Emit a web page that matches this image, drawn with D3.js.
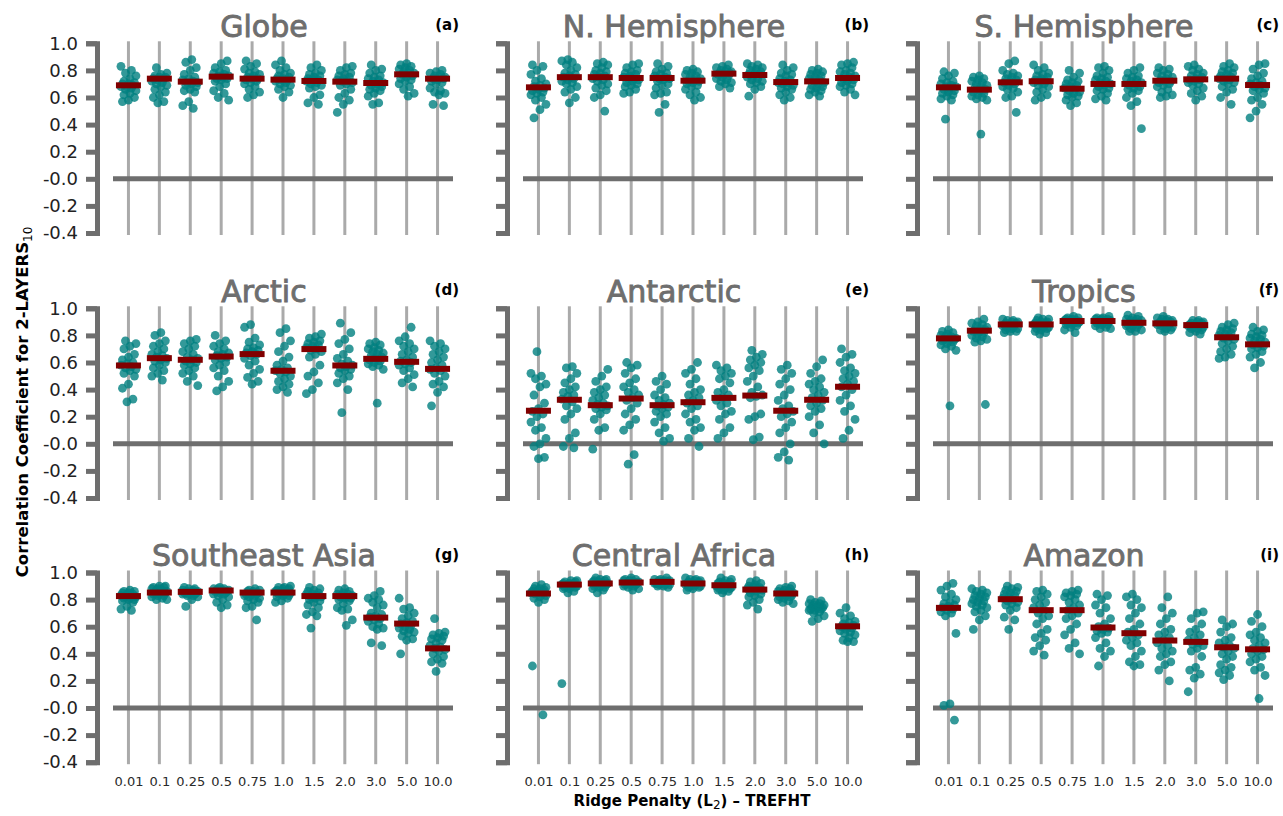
<!DOCTYPE html>
<html>
<head>
<meta charset="utf-8">
<script src="https://cdn.jsdelivr.net/npm/d3@7"></script>
<style>
  html, body { margin: 0; padding: 0; background: #fff; }
  svg { display: block; font-family: "DejaVu Sans", sans-serif; }
</style>
</head>
<body>
<svg id="chart" width="1283" height="816"></svg>
<script>
const categories = ["0.01","0.1","0.25","0.5","0.75","1.0","1.5","2.0","3.0","5.0","10.0"];
const panelTitles = ["Globe","N. Hemisphere","S. Hemisphere","Arctic","Antarctic","Tropics","Southeast Asia","Central Africa","Amazon"];
const panelLetters = ["(a)","(b)","(c)","(d)","(e)","(f)","(g)","(h)","(i)"];
const yTickValues = [-0.4,-0.2,0,0.2,0.4,0.6,0.8,1.0];
const yTickLabels = ["-0.4","-0.2","-0.0","0.2","0.4","0.6","0.8","1.0"];
const yAxisLabel = "Correlation Coefficient for 2-LAYERS";
const yAxisLabelSub = "10";
const xAxisLabelPre = "Ridge Penalty (L";
const xAxisLabelSub = "2";
const xAxisLabelPost = ") \u2013 TREFHT";

// points per category, values x100
const globePoints = [
  "83 80 78 76 74 72 71 70 70 69 68 68 67 66 65 63 62 60 58 57",
  "82 78 77 76 75 75 74 74 73 72 71 70 69 68 66 64 62 60 57 56",
  "88 86 82 80 77 75 74 73 72 71 71 70 69 68 66 65 64 57 54 52",
  "87 85 82 80 79 78 77 76 76 75 74 74 73 72 70 68 65 63 60 58",
  "87 85 83 81 79 78 77 76 75 74 74 73 72 71 70 68 66 64 62 60",
  "87 84 82 80 78 77 76 75 74 74 73 73 72 71 70 69 68 66 64 60",
  "84 82 80 78 77 76 75 74 73 73 72 71 70 69 68 67 62 60 56 55",
  "83 82 80 78 77 76 75 74 73 72 72 71 70 69 66 63 60 58 55 49",
  "84 81 80 78 76 75 74 73 72 71 70 69 68 67 66 65 63 61 56 55",
  "85 84 83 82 81 80 79 78 78 77 76 75 74 73 72 70 68 66 63 61",
  "80 79 78 77 76 75 75 74 74 73 72 71 70 67 65 64 63 62 55 54"
];
const globeMeans = [0.69,0.739,0.717,0.754,0.739,0.732,0.722,0.717,0.707,0.771,0.739];

const nhPoints = [
  "84 83 80 77 74 72 70 69 68 67 66 65 64 63 62 60 58 55 51 45",
  "88 87 86 84 82 80 78 77 76 75 74 73 72 71 70 68 66 64 60 56",
  "86 85 84 82 80 79 78 77 76 75 74 73 72 70 69 67 65 62 60 50",
  "85 84 82 80 79 78 77 76 75 74 74 73 72 71 70 69 68 66 64 63",
  "85 83 81 79 78 77 76 75 74 74 73 72 70 69 67 64 63 62 55 49",
  "81 80 79 78 77 76 75 74 73 72 72 71 70 69 68 66 64 62 60 58",
  "84 83 82 81 80 79 79 78 78 77 77 76 75 74 73 72 71 70 68 67",
  "85 84 83 82 81 80 79 78 77 77 76 75 74 73 72 71 70 68 66 61",
  "84 82 80 78 77 76 74 73 72 71 71 70 69 68 67 66 64 62 60 58",
  "81 80 79 78 77 76 75 74 73 72 71 70 69 68 67 66 65 64 62 61",
  "86 85 84 82 80 79 78 77 76 75 74 73 72 71 70 69 68 66 64 62"
];
const nhMeans = [0.675,0.75,0.75,0.744,0.744,0.724,0.776,0.766,0.714,0.719,0.744];

const shPoints = [
  "79 78 76 74 72 71 70 69 68 68 67 66 65 64 63 62 61 59 58 44",
  "76 75 74 73 72 71 70 69 68 67 66 65 64 63 62 61 60 59 58 33",
  "87 85 80 78 77 76 75 74 73 72 71 70 69 68 67 66 64 61 60 49",
  "84 82 80 78 77 76 75 74 73 72 72 71 70 69 68 66 64 62 60 58",
  "80 78 75 73 72 71 70 69 68 67 66 65 64 63 62 61 60 58 56 54",
  "83 82 80 78 76 75 74 73 72 71 70 69 68 67 66 65 63 61 59 58",
  "82 80 78 76 75 74 73 72 71 70 69 68 67 66 65 63 60 57 54 37",
  "82 81 80 78 77 76 75 74 73 72 72 71 70 69 68 66 64 62 61 60",
  "84 83 81 80 78 77 76 75 74 73 73 72 71 70 69 67 65 63 61 58",
  "85 83 82 80 79 78 77 76 75 74 74 73 72 71 70 68 66 64 60 55",
  "85 84 81 78 76 74 72 71 70 69 68 67 66 65 63 60 58 55 50 45"
];
const shMeans = [0.675,0.658,0.712,0.72,0.665,0.70,0.70,0.724,0.734,0.739,0.692];

const arcticPoints = [
  "76 74 72 70 66 64 62 60 59 58 57 56 55 54 52 50 44 41 33 31",
  "82 80 76 74 72 70 68 66 65 64 63 62 61 60 58 56 54 52 50 47",
  "77 76 74 72 70 68 66 64 63 62 61 60 59 58 56 54 52 50 46 43",
  "80 76 74 72 70 68 67 66 65 64 63 62 60 58 56 54 50 46 42 39",
  "88 86 78 75 73 71 70 69 68 67 66 65 63 61 58 55 52 49 46 44",
  "85 82 76 72 68 64 61 58 56 55 54 53 52 50 48 46 44 42 40 38",
  "81 79 78 76 75 74 73 72 71 70 69 68 66 64 58 53 50 45 40 37",
  "89 82 77 74 70 66 63 61 59 58 57 56 55 54 52 50 48 45 40 23",
  "75 74 73 71 70 69 68 67 66 65 64 63 62 61 60 59 58 57 55 30",
  "86 79 76 74 72 70 68 66 64 62 61 60 59 58 56 54 51 48 45 42",
  "76 74 72 70 68 66 64 62 60 58 56 55 54 52 50 46 44 42 38 28"
];
const arcticMeans = [0.578,0.632,0.62,0.644,0.662,0.539,0.699,0.578,0.627,0.605,0.553];

const antarcticPoints = [
  "68 52 50 48 44 42 36 30 26 24 22 20 16 12 10 4 0 -2 -10 -11",
  "57 56 52 48 45 42 40 38 36 35 33 31 28 26 22 18 8 4 -2 -3",
  "55 50 46 42 40 38 36 34 32 30 29 28 27 26 25 22 18 12 10 -4",
  "60 58 56 52 48 45 42 40 38 36 34 32 30 26 22 18 14 10 -8 -15",
  "50 46 44 40 36 34 32 30 29 28 27 26 24 22 20 16 12 8 4 2",
  "60 55 52 48 44 40 38 36 34 32 30 28 26 22 18 16 12 10 4 -2",
  "58 56 54 52 50 48 45 40 38 36 34 32 30 28 24 22 18 12 8 4",
  "69 66 64 62 60 58 56 54 50 46 42 38 36 35 34 22 20 18 5 3",
  "58 55 52 48 44 40 36 32 28 26 24 22 20 16 12 8 0 -6 -10 -12",
  "62 57 52 48 46 44 42 40 38 36 34 32 30 28 26 24 20 14 8 0",
  "70 66 64 60 56 54 52 50 48 46 44 42 40 36 32 28 24 18 10 4"
];
const antarcticMeans = [0.244,0.325,0.285,0.334,0.285,0.307,0.339,0.356,0.244,0.325,0.421];

const tropicsPoints = [
  "84 83 82 81 80 79 79 78 78 77 77 76 76 75 74 73 72 70 69 28",
  "92 90 89 88 87 86 85 84 84 83 83 82 81 80 79 78 77 76 75 29",
  "92 91 91 90 90 89 89 88 88 88 87 87 86 86 85 85 84 83 83 82",
  "93 92 92 91 90 90 89 89 88 88 87 87 86 86 85 85 84 83 82 81",
  "94 93 93 92 92 91 91 91 90 90 90 89 89 89 88 88 87 86 84 82",
  "94 93 93 92 92 92 91 91 91 90 90 90 89 89 88 88 87 86 85 85",
  "95 94 93 92 92 91 91 90 90 89 89 88 88 87 87 86 85 84 83 83",
  "94 93 92 92 91 91 90 90 89 89 88 88 88 87 87 86 85 84 84 83",
  "91 91 90 90 89 89 88 88 88 87 87 87 86 86 85 85 84 83 82 81",
  "89 88 86 85 84 83 82 81 80 79 78 77 76 74 72 70 68 66 64 63",
  "86 84 83 81 80 79 78 77 76 75 74 73 72 71 70 68 66 64 60 56"
];
const tropicsMeans = [0.778,0.835,0.881,0.881,0.906,0.906,0.893,0.889,0.876,0.786,0.734];

const seAsiaPoints = [
  "87 86 86 85 85 84 84 83 83 82 82 81 81 80 80 79 78 75 73 72",
  "90 90 89 89 88 88 87 87 86 86 85 85 84 84 83 83 82 81 80 80",
  "89 88 88 87 87 86 86 86 85 85 85 85 84 84 84 83 83 82 80 75",
  "89 88 88 88 87 87 87 86 86 86 85 85 84 84 83 82 80 78 76 74",
  "88 87 87 86 86 85 85 84 84 84 83 83 82 81 80 79 78 75 74 65",
  "90 89 89 88 88 87 87 86 86 86 85 85 84 84 83 83 82 81 79 78",
  "89 88 87 86 85 84 84 83 82 82 81 80 79 78 76 74 71 69 68 59",
  "88 87 86 85 84 84 83 83 82 82 81 81 80 79 77 74 73 72 65 61",
  "86 83 81 80 78 76 74 70 69 68 67 66 65 64 62 60 59 58 48 46",
  "81 74 73 70 68 66 64 63 62 61 60 59 58 57 56 55 53 51 50 40",
  "66 56 55 54 53 52 51 50 48 46 45 44 43 42 40 38 36 34 33 27"
];
const seAsiaMeans = [0.826,0.852,0.857,0.867,0.852,0.852,0.826,0.826,0.667,0.623,0.44];

const cAfricaPoints = [
  "91 90 89 88 88 87 87 86 86 85 85 84 84 83 82 81 80 78 31 -5",
  "94 94 93 93 92 92 92 91 91 91 90 90 90 89 89 88 88 86 85 18",
  "96 95 95 94 94 93 93 92 92 92 91 91 91 90 90 89 89 88 87 85",
  "96 95 95 94 94 93 93 93 92 92 92 92 91 91 91 90 90 89 88 87",
  "96 95 95 94 94 94 93 93 93 93 92 92 92 92 91 91 91 90 90 89",
  "96 95 95 94 94 93 93 92 92 92 91 91 91 90 90 90 89 89 88 87",
  "96 95 94 93 93 92 92 91 91 90 90 90 89 89 88 88 87 87 86 85",
  "94 93 92 91 90 89 89 88 88 87 87 86 85 84 83 82 80 78 76 73",
  "90 89 88 88 87 86 86 85 85 84 84 83 83 82 82 81 80 79 78 77",
  "80 79 78 77 77 76 76 75 75 74 74 73 73 72 72 71 70 68 66 64",
  "74 70 68 66 64 63 62 61 60 60 59 58 57 56 55 54 52 50 49 49"
];
const cAfricaMeans = [0.845,0.911,0.919,0.926,0.931,0.919,0.906,0.874,0.845,null,0.603];

const amazonPoints = [
  "92 90 87 84 82 80 78 77 76 75 74 73 72 71 70 68 55 3 2 -9",
  "88 87 86 85 84 83 82 81 80 79 78 77 76 75 74 72 71 68 65 58",
  "90 89 88 87 86 85 84 83 82 81 80 79 78 77 76 74 72 67 65 58",
  "87 86 84 82 80 78 76 74 72 70 68 66 62 58 55 52 50 46 42 39",
  "87 86 85 84 83 82 80 78 76 74 72 70 68 66 62 58 54 48 44 40",
  "84 83 80 76 74 70 66 62 60 59 58 57 56 55 52 48 44 42 38 31",
  "84 82 80 76 74 70 66 62 58 56 54 52 50 48 46 42 38 34 32 31",
  "82 74 70 66 62 58 56 54 52 50 48 46 44 42 40 38 34 32 28 20",
  "71 70 66 62 58 56 54 52 50 48 47 46 44 42 38 30 28 25 22 12",
  "65 62 60 56 52 50 48 46 45 44 42 40 38 36 32 30 28 26 24 21",
  "69 64 60 56 54 52 50 48 46 44 43 42 40 38 36 34 30 28 24 7"
];
const amazonMeans = [0.739,null,0.803,0.722,0.722,0.594,0.552,0.498,0.488,0.448,0.433];

const panelPoints = [globePoints, nhPoints, shPoints, arcticPoints, antarcticPoints, tropicsPoints, seAsiaPoints, cAfricaPoints, amazonPoints];
const panelMeans = [globeMeans, nhMeans, shMeans, arcticMeans, antarcticMeans, tropicsMeans, seAsiaMeans, cAfricaMeans, amazonMeans];

// ---------- layout ----------
const colX0 = [113, 523, 933];
const plotW = 340;
const rowTop = [43.3, 308.3, 572.5];
const plotH = 189.7;

const svg = d3.select("#chart");
const GREY = "#6e6e6e";

panelTitles.forEach((title, p) => {
  const r = Math.floor(p / 3), c = p % 3;
  const x0 = colX0[c], y0 = rowTop[r];
  const g = svg.append("g");
  const x = d3.scalePoint().domain(categories).range([x0, x0 + plotW]).padding(0.5);
  const y = d3.scaleLinear().domain([-0.4, 1.0]).range([y0 + plotH, y0]);

  // vertical category lines
  g.append("g").selectAll("line").data(categories).join("line")
    .attr("x1", d => x(d)).attr("x2", d => x(d))
    .attr("y1", y(1.0) - 2).attr("y2", y(-0.4) + 2)
    .attr("stroke", "#aaaaaa").attr("stroke-width", 3);

  // zero line
  g.append("line")
    .attr("x1", x0).attr("x2", x0 + plotW)
    .attr("y1", y(0)).attr("y2", y(0))
    .attr("stroke", GREY).attr("stroke-width", 5);

  // y axis bracket
  const yAxis = d3.axisLeft(y).tickValues(yTickValues)
    .tickSize(11).tickSizeOuter(11).tickPadding(8)
    .tickFormat((d, i) => c === 0 ? yTickLabels[i] : "");
  const ag = g.append("g").attr("transform", `translate(${x0 - 16},0)`).call(yAxis);
  ag.select(".domain").attr("stroke", GREY).attr("stroke-width", 5).attr("fill", "none");
  ag.selectAll(".tick line").attr("stroke", GREY).attr("stroke-width", 5);
  ag.selectAll(".tick text").attr("fill", "#222").style("font-size", "18px")
    .style("font-family", "DejaVu Sans, sans-serif");

  // x tick labels on bottom row
  if (r === 2) {
    const xAxis = d3.axisBottom(x).tickSize(0).tickPadding(0);
    const xg = g.append("g").attr("transform", `translate(0,${y(-0.4) + 15})`).call(xAxis);
    xg.select(".domain").remove();
    xg.selectAll(".tick text").attr("fill", "#2a2a2a").style("font-size", "13px")
      .style("font-family", "DejaVu Sans, sans-serif");
  }

  // points
  const pts = [];
  panelPoints[p].forEach((s, ci) => {
    s.trim().split(/\s+/).forEach((v, i) => {
      pts.push({ cat: categories[ci], ci, i, v: +v / 100 });
    });
  });
  g.append("g").selectAll("circle").data(pts).join("circle")
    .attr("cx", d => x(d.cat) + (((d.i * 7 + d.ci * 3 + p) % 11) - 5) * 1.5)
    .attr("cy", d => y(d.v))
    .attr("r", 4.4)
    .attr("fill", "#008080")
    .attr("fill-opacity", 0.8);

  // mean bars
  const means = panelMeans[p].map((m, ci) => ({ cat: categories[ci], m })).filter(d => d.m !== null);
  g.append("g").selectAll("rect").data(means).join("rect")
    .attr("x", d => x(d.cat) - 12.5)
    .attr("y", d => y(d.m) - 3)
    .attr("width", 25).attr("height", 6)
    .attr("fill", "#800000");

  // title
  g.append("text")
    .attr("x", x0 + 151).attr("y", y0 - 6.5)
    .attr("text-anchor", "middle")
    .attr("fill", GREY)
    .attr("stroke", GREY).attr("stroke-width", 0.9)
    .style("font-size", "30px")
    .text(title);

  // panel letter
  g.append("text")
    .attr("x", x0 + 346).attr("y", y0 - 13)
    .attr("text-anchor", "end")
    .attr("fill", "#000")
    .style("font-size", "15px").style("font-weight", "bold")
    .text(panelLetters[p]);
});

// y axis label
const yl = svg.append("text")
  .attr("transform", "translate(28,402) rotate(-90)")
  .attr("text-anchor", "middle")
  .attr("fill", "#000")
  .style("font-size", "16.5px").style("font-weight", "bold");
yl.append("tspan").text(yAxisLabel);
yl.append("tspan").attr("baseline-shift", "-4px").style("font-size", "12px").style("font-weight", "normal").text(yAxisLabelSub);

// x axis label
const xl = svg.append("text")
  .attr("x", 692).attr("y", 806)
  .attr("text-anchor", "middle")
  .attr("fill", "#000")
  .style("font-size", "15px").style("font-weight", "bold");
xl.append("tspan").text(xAxisLabelPre);
xl.append("tspan").attr("baseline-shift", "-3px").style("font-size", "12px").style("font-weight", "normal").text(xAxisLabelSub);
xl.append("tspan").text(xAxisLabelPost);
</script>
</body>
</html>
